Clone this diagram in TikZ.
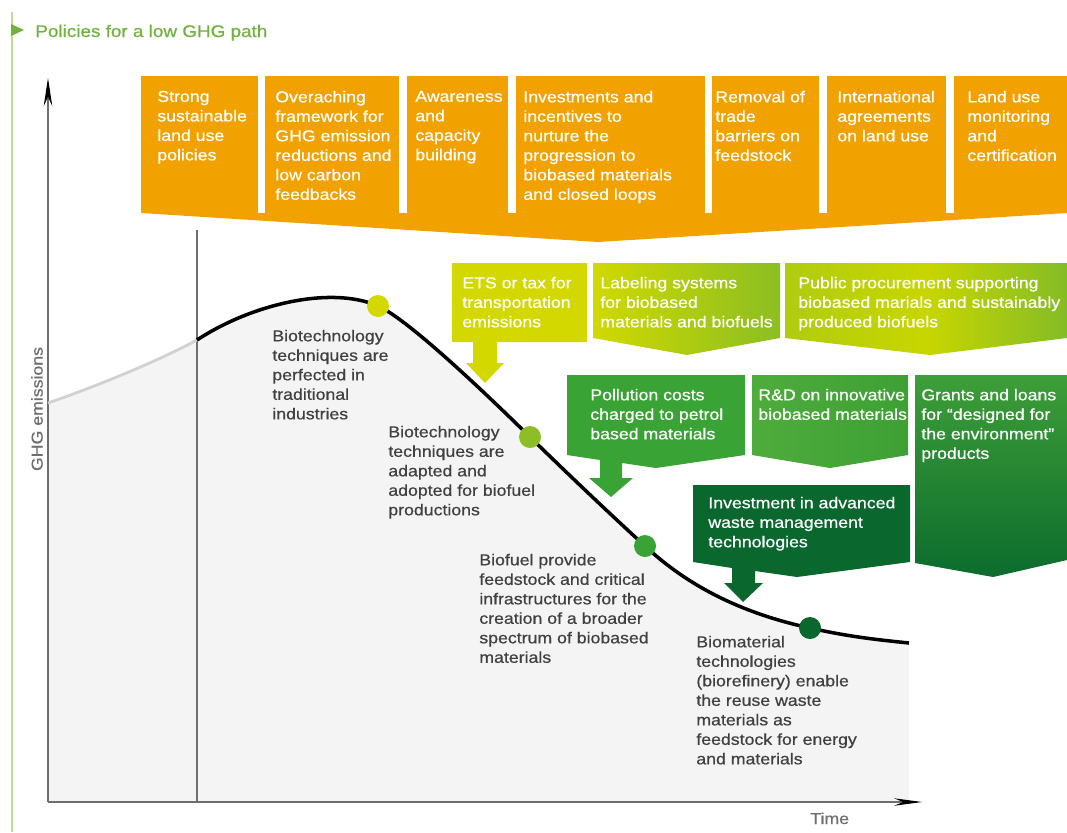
\documentclass[tikz,border=0pt]{standalone}
\usepackage{fontspec}
\setmainfont{Liberation Sans}[FakeStretch=1.12,FakeBold=0.6]
\usepackage{xcolor}
\usetikzlibrary{arrows.meta}

\definecolor{bannerorange}{RGB}{241,161,0}
\definecolor{titlegreen}{RGB}{112,178,60}
\definecolor{rulegreen}{RGB}{190,222,150}
\definecolor{axisgrey}{RGB}{110,110,110}
\definecolor{areagrey}{RGB}{244,244,244}
\definecolor{stepgrey}{RGB}{64,64,64}
\definecolor{dotA}{RGB}{211,216,0}
\definecolor{dotB}{RGB}{141,190,40}
\definecolor{dotC}{RGB}{58,163,53}
\definecolor{dotD}{RGB}{10,104,46}

\begin{document}
\begin{tikzpicture}[x=0.02cm,y=-0.02cm,font=\fontsize{9}{11.1}\selectfont,
    boxtext/.style={anchor=north west,inner sep=0pt,align=left,text=white},
    steptext/.style={anchor=north west,inner sep=0pt,align=left,text=stepgrey},
    dot/.style={circle,inner sep=0pt,minimum size=4.4mm},
    axis/.style={draw=axisgrey,line width=0.6pt}]
  \useasboundingbox (0,0) rectangle (1067,832);

  \draw[rulegreen,line width=1.3pt] (12,12) -- (12,832);
  \fill[titlegreen] (11,24) -- (24,30) -- (11,36) -- cycle;
  \node[anchor=base west,inner sep=0pt,text=titlegreen,font=\fontsize{9.6}{11}\selectfont] (title) at (35,37) {Policies for a low GHG path};

  \coordinate (origin) at (48,802);
  \coordinate (ytop) at (48,78);
  \coordinate (xend) at (922,802);
  \coordinate (p0) at (48,403);
  \coordinate (pstart) at (197,340);
  \coordinate (p1) at (378,306);
  \coordinate (p2) at (530,437);
  \coordinate (p3) at (645,546);
  \coordinate (p4) at (810,628);
  \coordinate (pend) at (909,643);

  \fill[areagrey] (p0) .. controls (100,385) and (160,360) .. (pstart)
    .. controls (250,305) and (330,285) .. (p1)
    .. controls (405,318) and (470,378) .. (p2)
    .. controls (570,476) and (610,514) .. (p3)
    .. controls (690,588) and (745,614) .. (p4)
    .. controls (850,637) and (880,640) .. (pend) |- (origin) -- cycle;

  \draw[axis] (197,230) -- (197,802);
  \draw[axis,-{Stealth[length=5.6mm,width=1.7mm,color=black]}] (origin) -- (ytop);
  \draw[axis,-{Stealth[length=5.6mm,width=1.5mm,color=black]}] (origin) -- (xend);
  \node[rotate=90,text=axisgrey] (ylabel) at (37,409) {GHG emissions};
  \node[anchor=base west,inner sep=0pt,text=axisgrey] (xlabel) at (810,824) {Time};

  \draw[black!18,line width=1.6pt] (p0) .. controls (100,385) and (160,360) .. (pstart);
  \draw[black,line width=2pt] (pstart) .. controls (250,305) and (330,285) .. (p1)
    .. controls (405,318) and (470,378) .. (p2)
    .. controls (570,476) and (610,514) .. (p3)
    .. controls (690,588) and (745,614) .. (p4)
    .. controls (850,637) and (880,640) .. (pend);
  \foreach \n/\col in {1/dotA,2/dotB,3/dotC,4/dotD}{ \node[dot,fill=\col] (dot\n) at (p\n) {}; }

  \node[steptext] (stage1) at (272,329.5) {Biotechnology\\techniques are\\perfected in\\traditional\\industries};
  \node[steptext] (stage2) at (388,425.5) {Biotechnology\\techniques are\\adapted and\\adopted for biofuel\\productions};
  \node[steptext] (stage3) at (479,553.5) {Biofuel provide\\feedstock and critical\\infrastructures for the\\creation of a broader\\spectrum of biobased\\materials};
  \node[steptext] (stage4) at (696,635.5) {Biomaterial\\technologies\\(biorefinery) enable\\the reuse waste\\materials as\\feedstock for energy\\and materials};

  \fill[bannerorange] (141,76) -- (1067,76) -- (1067,213) -- (598,242) -- (141,213) -- cycle;
  \foreach \a/\b in {258/265,399/407,508/516,705/712,819/827,946/954}{ \fill[white] (\a,76) rectangle (\b,213); }
  \foreach \x/\txt [count=\n] in {157/{Strong\\sustainable\\land use\\policies},
      275/{Overaching\\framework for\\GHG emission\\reductions and\\low carbon\\feedbacks},
      415/{Awareness\\and\\capacity\\building},
      523/{Investments and\\incentives to\\nurture the\\progression to\\biobased materials\\and closed loops},
      715/{Removal of\\trade\\barriers on\\feedstock},
      837/{International\\agreements\\on land use},
      967/{Land use\\monitoring\\and\\certification}}{
    \node[boxtext] (policy\n) at (\x,90.5) {\txt};
  }

  \fill[dotA] (452,263) -- (587,263) -- (587,342) -- (497,342) -- (497,363) -- (504,363) -- (485,383)
    -- (466,363) -- (473,363) -- (473,342) -- (452,342) -- cycle;
  \shade[left color={rgb,255:red,208;green,217;blue,0},right color={rgb,255:red,140;green,190;blue,34}]
    (593,263) -- (780,263) -- (780,338) -- (687,355) -- (593,338) -- cycle;
  \shade[left color={rgb,255:red,176;green,204;blue,16},right color={rgb,255:red,132;green,188;blue,38},
    middle color={rgb,255:red,200;green,214;blue,0}]
    (785,263) -- (1067,263) -- (1067,338) -- (930,355) -- (785,338) -- cycle;
  \node[boxtext] (ets) at (462,276.5) {ETS or tax for\\transportation\\emissions};
  \node[boxtext] (label) at (600,276.5) {Labeling systems\\for biobased\\materials and biofuels};
  \node[boxtext] (procure) at (798,276.5) {Public procurement supporting\\biobased marials and sustainably\\produced biofuels};

  \fill[dotC] (567,375) -- (745,375) -- (745,455) -- (656,468) -- (622,463) -- (622,478) -- (633,478)
    -- (611,497) -- (589,478) -- (600,478) -- (600,460) -- (567,455) -- cycle;
  \shade[left color={rgb,255:red,78;green,172;blue,60},right color={rgb,255:red,62;green,160;blue,52}]
    (752,375) -- (908,375) -- (908,455) -- (830,468) -- (752,455) -- cycle;
  \shade[top color={rgb,255:red,62;green,158;blue,56},bottom color={rgb,255:red,12;green,108;blue,46}]
    (915,375) -- (1067,375) -- (1067,560) -- (993,577) -- (915,563) -- cycle;
  \node[boxtext] (pollution) at (590,388.5) {Pollution costs\\charged to petrol\\based materials};
  \node[boxtext] (rnd) at (758,388.5) {R\&D on innovative\\biobased materials};
  \node[boxtext] (grants) at (921,388.5) {Grants and loans\\for “designed for\\the environment”\\products};

  \fill[dotD] (693,485) -- (910,485) -- (910,562) -- (797,577) -- (755,571) -- (755,583) -- (763,583)
    -- (743,602) -- (724,583) -- (732,583) -- (732,568) -- (693,562) -- cycle;
  \node[boxtext] (waste) at (708,496.5) {Investment in advanced\\waste management\\technologies};
\end{tikzpicture}
\end{document}
